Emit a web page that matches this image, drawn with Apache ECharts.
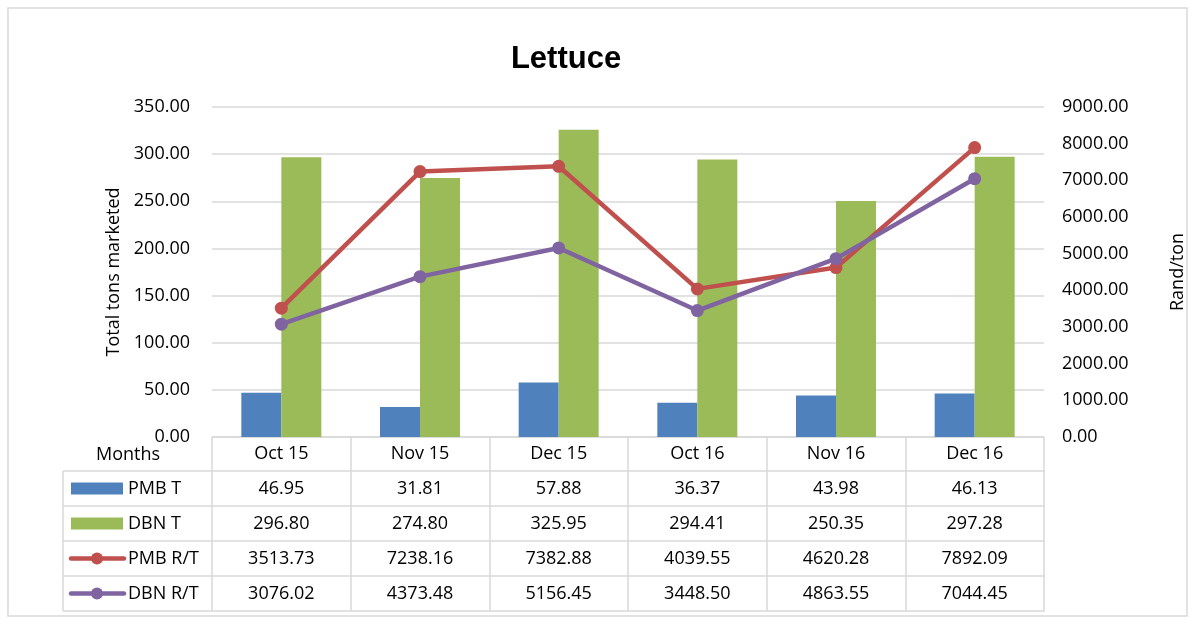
<!DOCTYPE html>
<html><head><meta charset="utf-8">
<script src="https://cdn.jsdelivr.net/npm/echarts@6/dist/echarts.min.js"></script>
<style>html,body{margin:0;padding:0;background:#fff}#c{width:1195px;height:624px}</style>
</head><body><div id="c"></div>
<script>
const months = ['Oct 15','Nov 15','Dec 15','Oct 16','Nov 16','Dec 16'];
const pmbT = [46.95, 31.81, 57.88, 36.37, 43.98, 46.13];
const dbnT = [296.80, 274.80, 325.95, 294.41, 250.35, 297.28];
const pmbRT = [3513.73, 7238.16, 7382.88, 4039.55, 4620.28, 7892.09];
const dbnRT = [3076.02, 4373.48, 5156.45, 3448.50, 4863.55, 7044.45];
const seriesNames = ['PMB T','DBN T','PMB R/T','DBN R/T'];
const colors = ['#4F81BD','#9BBB59','#C0504D','#8064A2'];

const FONT = 'Open Sans';
const chart = echarts.init(document.getElementById('c'));
const gridL = 212, gridR = 1045, gridT = 107, gridB = 437;
const rowLines = [471, 506, 541, 576, 611];
const tableLeft = 63;
const tableBottom = 611;

chart.setOption({
  animation: false,
  title: {text: 'Lettuce', left: 561, top: 39, textAlign: 'center',
    textStyle: {fontFamily: 'Liberation Sans', fontWeight: 'bold', fontSize: 31, color: '#000'}},
  grid: {left: gridL, right: 1195 - gridR, top: gridT, bottom: 624 - gridB, containLabel: false},
  xAxis: {type: 'category', data: months,
    axisLine: {show: true, lineStyle: {color: '#d9d9d9', width: 1.5}},
    axisTick: {show: true, length: tableBottom - gridB, lineStyle: {color: '#d9d9d9', width: 1.5}},
    axisLabel: {margin: 8, fontFamily: FONT, fontSize: 18, color: '#000'}},
  yAxis: [
    {type: 'value', min: 0, max: 350, interval: 50, name: 'Total tons marketed',
      nameLocation: 'middle', nameGap: 88, nameRotate: 90,
      nameTextStyle: {fontFamily: FONT, fontSize: 18, color: '#000'},
      axisLine: {show: false}, axisTick: {show: false},
      axisLabel: {margin: 22, fontFamily: FONT, fontSize: 18, color: '#000', formatter: v => v.toFixed(2)},
      splitLine: {lineStyle: {color: '#d9d9d9', width: 1.5}}},
    {type: 'value', min: 0, max: 9000, interval: 1000, name: 'Rand/ton',
      nameLocation: 'middle', nameGap: 125, nameRotate: 90,
      nameTextStyle: {fontFamily: FONT, fontSize: 18, color: '#000'},
      axisLine: {show: false}, axisTick: {show: false},
      axisLabel: {margin: 18, fontFamily: FONT, fontSize: 18, color: '#000', formatter: v => v.toFixed(2)},
      splitLine: {show: false}}
  ],
  series: [
    {name: seriesNames[0], type: 'bar', data: pmbT, barWidth: 40, barGap: '0%', itemStyle: {color: colors[0]}},
    {name: seriesNames[1], type: 'bar', data: dbnT, barWidth: 40, barGap: '0%', itemStyle: {color: colors[1]}},
    {name: seriesNames[2], type: 'line', yAxisIndex: 1, data: pmbRT, symbol: 'circle', symbolSize: 13,
      lineStyle: {color: colors[2], width: 4.5}, itemStyle: {color: colors[2]}},
    {name: seriesNames[3], type: 'line', yAxisIndex: 1, data: dbnRT, symbol: 'circle', symbolSize: 13,
      lineStyle: {color: colors[3], width: 4.5}, itemStyle: {color: colors[3]}}
  ]
});

// table built from the data arrays
const rows = [pmbT, dbnT, pmbRT, dbnRT];
const g = [];
g.push({type: 'rect', shape: {x: 8, y: 8, width: 1179, height: 608},
  style: {fill: 'none', stroke: '#d9d9d9', lineWidth: 1.5}, silent: true});
g.push({type: 'text', style: {text: 'Months', x: 128, y: 455, textAlign: 'center', textVerticalAlign: 'middle',
  font: '18px "' + FONT + '"', fill: '#000'}});
rowLines.forEach(y => g.push({type: 'line', shape: {x1: tableLeft, y1: y, x2: gridR, y2: y},
  style: {stroke: '#d9d9d9', lineWidth: 1.5}}));
g.push({type: 'line', shape: {x1: tableLeft, y1: rowLines[0], x2: tableLeft, y2: tableBottom},
  style: {stroke: '#d9d9d9', lineWidth: 1.5}});
rows.forEach((arr, r) => {
  const yc = (rowLines[r] + rowLines[r + 1]) / 2;
  if (r < 2) {
    g.push({type: 'rect', shape: {x: 71, y: yc - 6, width: 52, height: 12}, style: {fill: colors[r]}});
  } else {
    g.push({type: 'line', shape: {x1: 71, y1: yc, x2: 124, y2: yc}, style: {stroke: colors[r], lineWidth: 4.5, lineCap: 'round'}});
    g.push({type: 'circle', shape: {cx: 97, cy: yc, r: 6}, style: {fill: colors[r]}});
  }
  g.push({type: 'text', style: {text: seriesNames[r], x: 128, y: yc, textAlign: 'left', textVerticalAlign: 'middle',
    font: '18px "' + FONT + '"', fill: '#000'}});
  arr.forEach((v, i) => {
    const x = chart.convertToPixel({xAxisIndex: 0}, months[i]);
    g.push({type: 'text', style: {text: v.toFixed(2), x: x, y: yc, textAlign: 'center', textVerticalAlign: 'middle',
      font: '18px "' + FONT + '"', fill: '#000'}});
  });
});
chart.setOption({graphic: g});
</script></body></html>
